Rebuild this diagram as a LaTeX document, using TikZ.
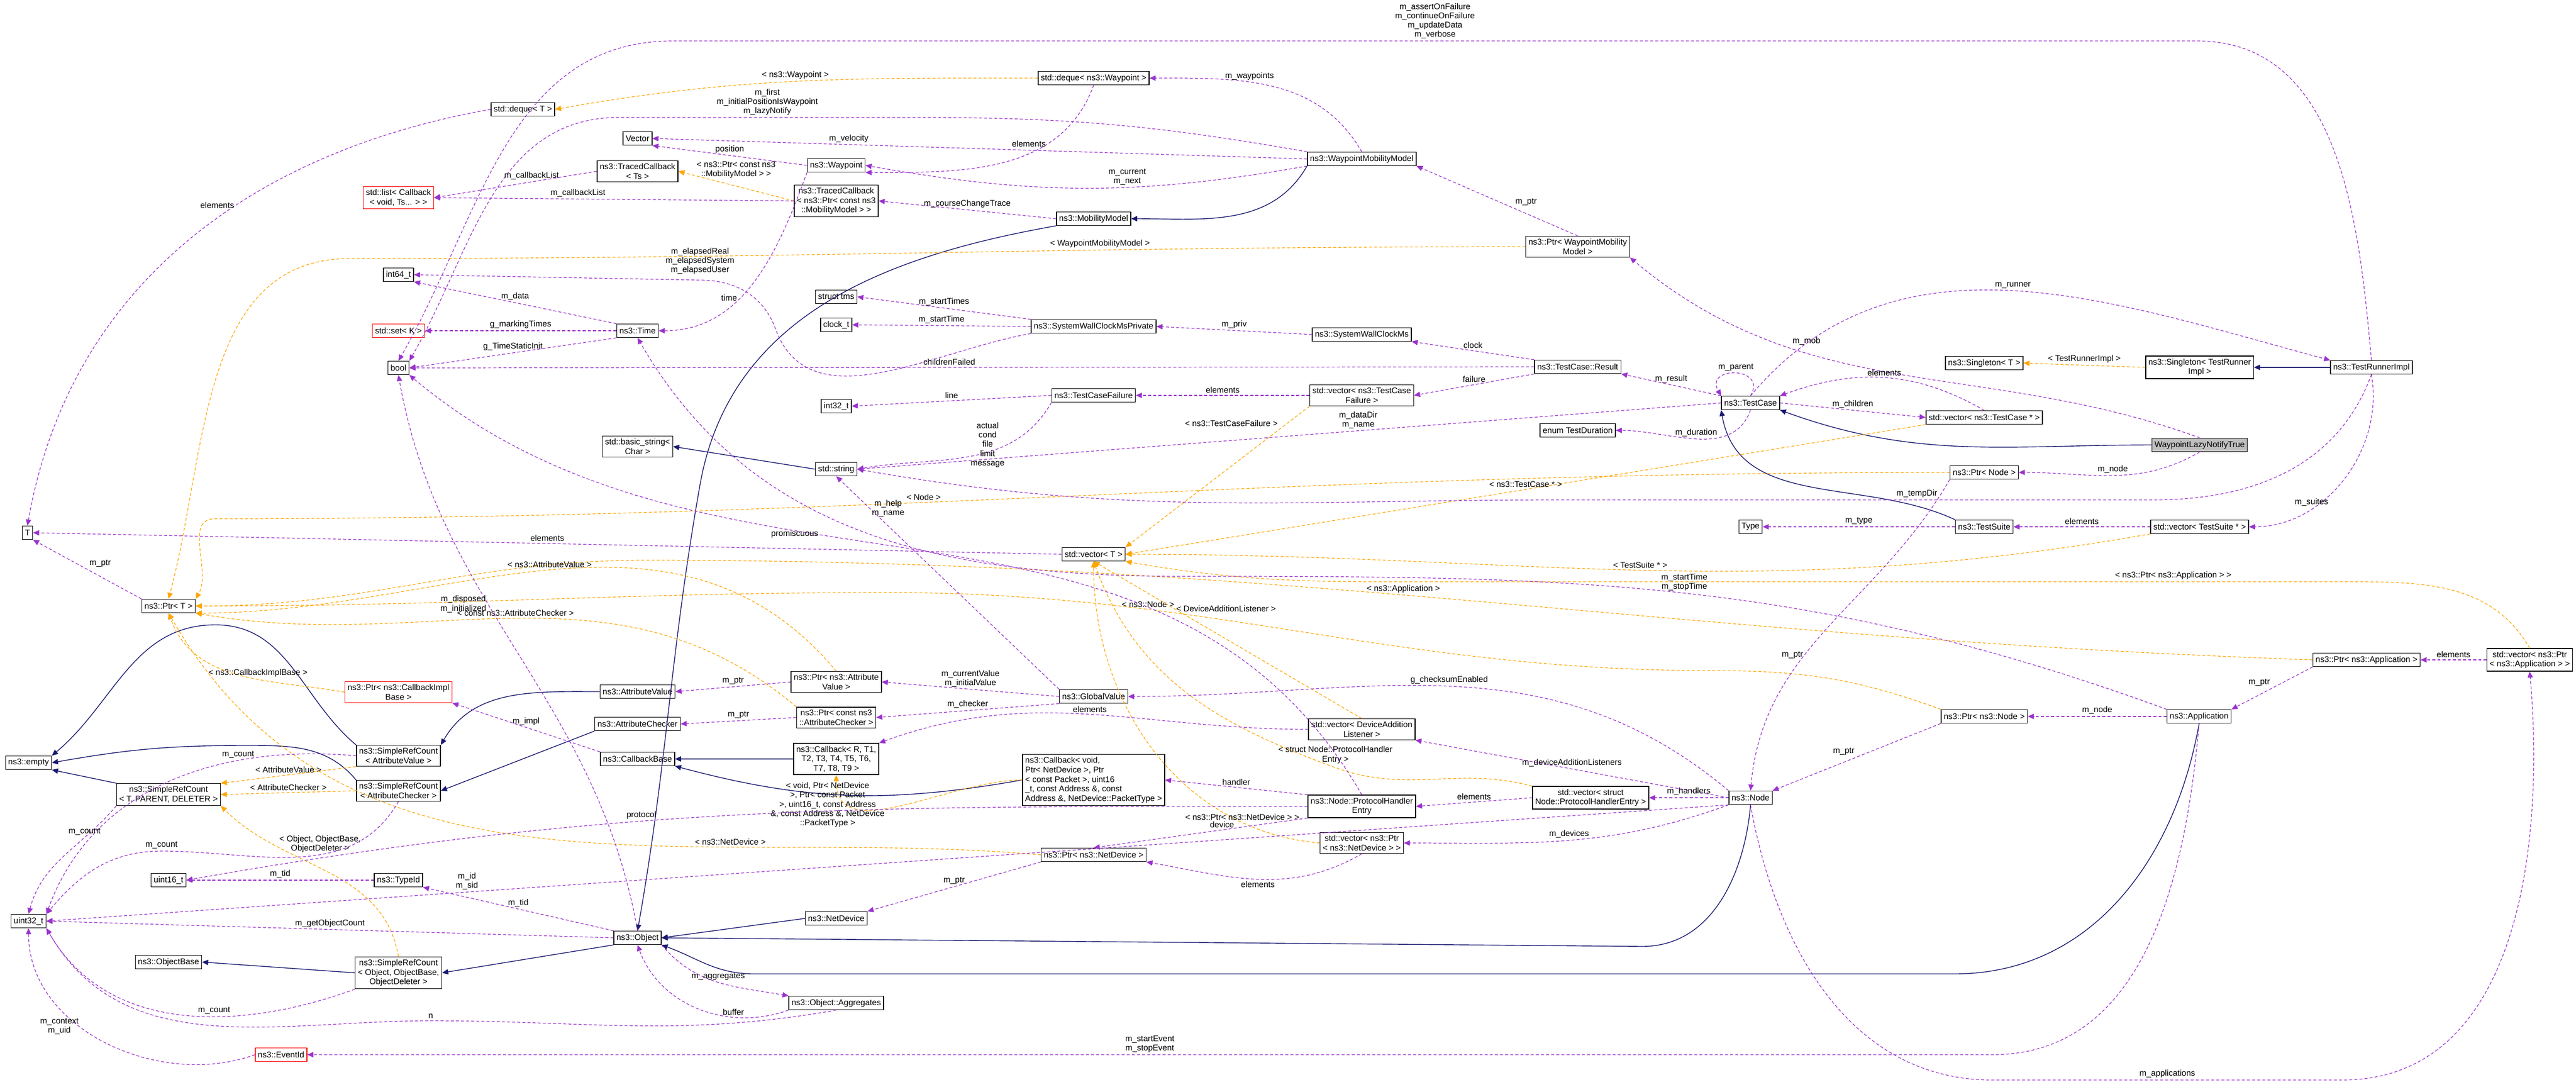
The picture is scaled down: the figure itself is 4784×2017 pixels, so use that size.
\documentclass[tikz,border=0pt]{standalone}
\usepackage{fontspec}
\setmainfont{Liberation Sans}
\usetikzlibrary{arrows.meta,positioning}
\definecolor{usecol}{HTML}{9A32CD}
\definecolor{tplcol}{HTML}{FFA500}
\definecolor{inhcol}{HTML}{191970}
\tikzset{
  box/.style={draw,rectangle,line width=0.4pt,font=\fontsize{4.4}{5}\selectfont,align=center,inner sep=1.4pt,minimum height=0.25cm},
  redbox/.style={box,draw=red},
  lbl/.style={font=\fontsize{4.4}{4.9}\selectfont,align=center,inner sep=1pt,text=black},
  usage/.style={draw=usecol,dash pattern=on 1.6pt off 1.1pt,line width=0.35pt,-{Triangle[length=3.2pt,width=2.8pt]},usecol},
  tmpl/.style={draw=tplcol,dash pattern=on 1.6pt off 1.1pt,line width=0.35pt,-{Triangle[length=3.2pt,width=2.8pt]},tplcol},
  inh/.style={draw=inhcol,line width=0.4pt,-{Triangle[length=3.2pt,width=2.8pt]},inhcol}
}
\begin{document}
\begin{tikzpicture}[x=0.01cm,y=-0.01cm]
\useasboundingbox (0,0) rectangle (4784,2017);
% left column
\node[box] (dequeT) at (971,203) {std::deque< T >};
\node[box] (Vector) at (1184,257) {Vector};
\node[box] (TracedTs) at (1184,318) {ns3::TracedCallback\\< Ts >};
\node[redbox] (listCb) at (740,367) {std::list< Callback\\< void, Ts... > >};
\node[box] (int64) at (740,510) {int64\_t};
\node[redbox] (setK) at (740,614) {std::set< K >};
\node[box] (Time) at (1184,614) {ns3::Time};
\node[box] (bool) at (740,683) {bool};
\node[box] (T) at (51,989) {T};
\node[box] (tms) at (1553,551) {struct tms};
\node[box] (clockt) at (1553,603) {clock\_t};
\node[box] (int32) at (1553,754) {int32\_t};
\node[box] (basicstr) at (1184,829) {std::basic\_string<\\ Char >};
\node[box] (string) at (1553,871) {std::string};
\node[box] (Waypoint) at (1553,307) {ns3::Waypoint};
\node[box] (TracedMob) at (1553,373) {ns3::TracedCallback\\< ns3::Ptr< const ns3\\::MobilityModel > >};
% middle
\node[box] (dequeWp) at (2031,145) {std::deque< ns3::Waypoint >};
\node[box] (WMM) at (2529,295) {ns3::WaypointMobilityModel};
\node[box] (MobModel) at (2031,406) {ns3::MobilityModel};
\node[box] (PtrWMM) at (2930,458) {ns3::Ptr< WaypointMobility\\Model >};
\node[box] (SWCMPriv) at (2031,606) {ns3::SystemWallClockMsPrivate};
\node[box] (SWCMs) at (2529,621) {ns3::SystemWallClockMs};
\node[box] (Result) at (2930,681) {ns3::TestCase::Result};
\node[box] (TCFail) at (2031,734) {ns3::TestCaseFailure};
\node[box] (vecTCF) at (2529,734) {std::vector< ns3::TestCase\\Failure >};
\node[box] (enumTD) at (2930,799) {enum TestDuration};
% right
\node[box] (TestCase) at (3251,748) {ns3::TestCase};
\node[box] (vecTC) at (3685,775) {std::vector< ns3::TestCase * >};
\node[box] (SingT) at (3685,674) {ns3::Singleton< T >};
\node[box] (SingTRI) at (4085,682) {ns3::Singleton< TestRunner\\Impl >};
\node[box] (TRI) at (4404,682) {ns3::TestRunnerImpl};
\node[box,fill=black!25] (WLNT) at (4085,826) {WaypointLazyNotifyTrue};
\node[box] (PtrNode) at (3685,877) {ns3::Ptr< Node >};
\node[box] (Type) at (3251,978) {Type};
\node[box] (TestSuite) at (3685,978) {ns3::TestSuite};
\node[box] (vecTS) at (4085,978) {std::vector< TestSuite * >};
% lower left
\node[box] (PtrT) at (313,1125) {ns3::Ptr< T >};
\node[redbox] (PtrCbImpl) at (740,1285) {ns3::Ptr< ns3::CallbackImpl\\Base >};
\node[box] (AttrVal) at (1184,1284) {ns3::AttributeValue};
\node[box] (AttrChk) at (1184,1344) {ns3::AttributeChecker};
\node[box] (CbBase) at (1184,1409) {ns3::CallbackBase};
\node[box] (SRCAV) at (740,1403) {ns3::SimpleRefCount\\< AttributeValue >};
\node[box] (empty) at (53,1416) {ns3::empty};
\node[box] (SRCTPD) at (313,1475) {ns3::SimpleRefCount\\< T, PARENT, DELETER >};
\node[box] (SRCAC) at (740,1468) {ns3::SimpleRefCount\\< AttributeChecker >};
\node[box] (uint16) at (313,1634) {uint16\_t};
\node[box] (TypeId) at (740,1634) {ns3::TypeId};
\node[box] (uint32) at (53,1710) {uint32\_t};
\node[box] (Object) at (1184,1741) {ns3::Object};
\node[box] (ObjBase) at (313,1786) {ns3::ObjectBase};
\node[box] (SRCObj) at (740,1806) {ns3::SimpleRefCount\\< Object, ObjectBase,\\ ObjectDeleter >};
\node[box] (Aggr) at (1553,1862) {ns3::Object::Aggregates};
\node[redbox] (EventId) at (522,1958) {ns3::EventId};
\node[box] (PtrAV) at (1553,1266) {ns3::Ptr< ns3::Attribute\\Value >};
\node[box] (PtrAC) at (1553,1332) {ns3::Ptr< const ns3\\::AttributeChecker >};
\node[box] (CbR) at (1553,1409) {ns3::Callback< R, T1,\\ T2, T3, T4, T5, T6,\\ T7, T8, T9 >};
\node[box] (NetDev) at (1553,1705) {ns3::NetDevice};
% lower middle and right
\node[box] (vecT) at (2031,1029) {std::vector< T >};
\node[box] (GlobVal) at (2031,1293) {ns3::GlobalValue};
\node[box] (vecDAL) at (2529,1354) {std::vector< DeviceAddition\\Listener >};
\node[box,align=left] (CbVoid) at (2031,1448) {ns3::Callback< void,\\ Ptr< NetDevice >, Ptr\\< const Packet >, uint16\\\_t, const Address \&, const\\ Address \&, NetDevice::PacketType >};
\node[box] (PNHE) at (2529,1497) {ns3::Node::ProtocolHandler\\Entry};
\node[box] (vecPHE) at (2954,1481) {std::vector< struct\\ Node::ProtocolHandlerEntry >};
\node[box] (vecPND) at (2529,1565) {std::vector< ns3::Ptr\\< ns3::NetDevice > >};
\node[box] (PtrND) at (2031,1587) {ns3::Ptr< ns3::NetDevice >};
\node[box] (Node) at (3251,1481) {ns3::Node};
\node[box] (PtrNsNode) at (3685,1330) {ns3::Ptr< ns3::Node >};
\node[box] (App) at (4084,1330) {ns3::Application};
\node[box] (PtrApp) at (4395,1225) {ns3::Ptr< ns3::Application >};
\node[box] (vecPApp) at (4698,1225) {std::vector< ns3::Ptr\\< ns3::Application > >};
% inheritance
\draw[inh] (WMM.south west) to[out=-120,in=0] (MobModel.east);
\draw[inh] (MobModel.south west) to[out=190,in=80] (1300,900) to[out=-100,in=80] (Object.north);
\draw[inh] (string.west) -- (basicstr.east);
\draw[inh] (WLNT.west) to[out=180,in=-20] (TestCase.south east);
\draw[inh] (TestSuite.north west) to[out=155,in=-80] (TestCase.south west);
\draw[inh] (TRI.west) -- (SingTRI.east);
\draw[inh] (SRCAV.north west) to[out=140,in=0] (400,1160) to[out=180,in=40] (empty.north east);
\draw[inh] (SRCAC.north west) to[out=130,in=0] (450,1384) to[out=180,in=10] (empty.east);
\draw[inh] (SRCTPD.north west) -- (empty.south east);
\draw[inh] (AttrVal.west) to[out=180,in=60] (SRCAV.north east);
\draw[inh] (AttrChk.south west) -- (SRCAC.east);
\draw[inh] (CbR.west) -- (CbBase.east);
\draw[inh] (CbVoid.west) to[out=190,in=-15] (CbBase.south east);
\draw[inh] (SRCObj.west) -- (ObjBase.east);
\draw[inh] (Object.south west) -- (SRCObj.east);
\draw[inh] (NetDev.west) -- (Object.east);
\draw[inh] (Node.south) to[out=-95,in=0] (3050,1757) -- (Object.east);
\draw[inh] (App.south) to[out=-100,in=0] (3630,1808) -- (1400,1808) to[out=180,in=-20] (Object.south east);
% templates
\draw[tmpl] (dequeWp.west) to[out=180,in=10] node[lbl,above,pos=0.5]{< ns3::Waypoint >} (dequeT.east);
\draw[tmpl] (TracedMob.west) -- node[lbl,above=3pt,pos=0.5]{< ns3::Ptr< const ns3\\::MobilityModel > >} (TracedTs.east);
\draw[tmpl] (PtrWMM.west) to[out=180,in=0] node[lbl,above,pos=0.35]{< WaypointMobilityModel >} (650,480) to[out=180,in=75] (PtrT.north);
\draw[tmpl] (vecTCF.south west) -- node[lbl,pos=0.12,left=4pt]{< ns3::TestCaseFailure >} (vecT.north east);
\draw[tmpl] (vecTC.south west) -- node[lbl,pos=0.5,above]{< ns3::TestCase * >} (vecT.east);
\draw[tmpl] (PtrNode.west) to[out=180,in=0] node[lbl,above,pos=0.6]{< Node >} (400,963) to[out=180,in=60] (PtrT.north east);
\draw[tmpl] (vecTS.south west) to[out=190,in=0] node[lbl,above,pos=0.5]{< TestSuite * >} (vecT.east);
\draw[tmpl] (vecPApp.north) to[out=120,in=0] (4370,1080) -- node[lbl,above,pos=0.2]{< ns3::Ptr< ns3::Application > >} (2700,1080) to[out=180,in=-10] (vecT.south east);
\draw[tmpl] (PtrApp.west) to[out=178,in=0] node[lbl,above,pos=0.55]{< ns3::Application >} (1200,1040) to[out=180,in=0] (PtrT.east);
\draw[tmpl] (PtrNsNode.north west) to[out=160,in=0] (3180,1245) to[out=180,in=0] node[lbl,above,pos=0.7]{< ns3::Node >} (1650,1100) to[out=180,in=0] (PtrT.east);
\draw[tmpl] (vecDAL.north) -- node[lbl,pos=0.7,right]{< DeviceAdditionListener >} (vecT.south);
\draw[tmpl] (vecPHE.north west) to[out=165,in=-20] (2480,1425) node[lbl,above=1pt]{< struct Node::ProtocolHandler\\Entry >} to[out=160,in=-70] (vecT.south);
\draw[tmpl] (vecPND.west) to[out=175,in=-90] node[lbl,pos=0.2,above]{< ns3::Ptr< ns3::NetDevice > >} (vecT.south);
\draw[tmpl] (PtrAV.north) to[out=130,in=0] node[lbl,pos=0.5,above]{< ns3::AttributeValue >} (PtrT.south east);
\draw[tmpl] (PtrAC.north west) to[out=140,in=-10] node[lbl,pos=0.5,above]{< const ns3::AttributeChecker >} (PtrT.south east);
\draw[tmpl] (PtrCbImpl.west) to[out=170,in=-70] node[lbl,pos=0.4,above]{< ns3::CallbackImplBase >} (PtrT.south);
\draw[tmpl] (PtrND.west) to[out=175,in=-60] node[lbl,pos=0.3,above]{< ns3::NetDevice >} (PtrT.south);
\draw[tmpl] (SRCAV.south west) -- node[lbl,pos=0.5,above]{< AttributeValue >} (SRCTPD.north east);
\draw[tmpl] (SRCAC.west) -- node[lbl,pos=0.5,above]{< AttributeChecker >} (SRCTPD.east);
\draw[tmpl] (SRCObj.north) to[out=100,in=-45] node[lbl,pos=0.75,right=2pt]{< Object, ObjectBase,\\ObjectDeleter >} (SRCTPD.south east);
\draw[tmpl] (CbVoid.west) to[out=180,in=-90] node[lbl,pos=0.5,left=8pt]{< void, Ptr< NetDevice\\>, Ptr< const Packet\\>, uint16\_t, const Address\\\&, const Address \&, NetDevice\\::PacketType >} (CbR.south);
\draw[tmpl] (SingTRI.west) -- node[lbl,pos=0.5,above]{< TestRunnerImpl >} (SingT.east);
% usage
\draw[usage] (dequeT.west) to[out=190,in=80] node[lbl,pos=0.4,left]{elements} (T.north);
\draw[usage] (dequeWp.south) to[out=-110,in=0] node[lbl,pos=0.3,left]{elements} (Waypoint.south east);
\draw[usage] (WMM.north) to[out=120,in=0] node[lbl,pos=0.6,above]{m\_waypoints} (dequeWp.east);
\draw[usage] (WMM.north west) to[out=170,in=0] (1700,218) -- node[lbl,pos=0.5,above]{m\_first\\m\_initialPositionIsWaypoint\\m\_lazyNotify} (1150,218) to[out=180,in=60] (bool.north east);
\draw[usage] (WMM.west) -- node[lbl,pos=0.7,above]{m\_velocity} (Vector.east);
\draw[usage] (WMM.south west) to[out=190,in=-10] node[lbl,pos=0.4,above]{m\_current\\m\_next} (Waypoint.east);
\draw[usage] (Waypoint.west) -- node[lbl,pos=0.5,above]{position} (Vector.south east);
\draw[usage] (Waypoint.south west) to[out=-110,in=0] node[lbl,pos=0.6,left]{time} (Time.east);
\draw[usage] (TracedTs.west) -- node[lbl,pos=0.4,above]{m\_callbackList} (listCb.east);
\draw[usage] (TracedMob.west) -- node[lbl,pos=0.6,above]{m\_callbackList} (listCb.east);
\draw[usage] (MobModel.west) -- node[lbl,pos=0.5,above]{m\_courseChangeTrace} (TracedMob.east);
\draw[usage] (PtrWMM.north) -- node[lbl,pos=0.4,above right]{m\_ptr} (WMM.south east);
\draw[usage] (WLNT.north) to[out=160,in=-40] node[lbl,pos=0.7,above right]{m\_mob} (PtrWMM.south east);
\draw[usage] (WLNT.south) to[out=-150,in=0] node[lbl,pos=0.5,above]{m\_node} (PtrNode.east);
\draw[usage] (Time.north west) -- node[lbl,pos=0.5,above]{m\_data} (int64.south east);
\draw[usage] (Time.west) -- node[lbl,pos=0.5,above]{g\_markingTimes} (setK.east);
\draw[usage] (Time.south west) -- node[lbl,pos=0.5,above]{g\_TimeStaticInit} (bool.east);
\draw[usage] (SWCMPriv.north west) -- node[lbl,pos=0.5,above]{m\_startTimes} (tms.east);
\draw[usage] (SWCMPriv.west) -- node[lbl,pos=0.5,above]{m\_startTime} (clockt.east);
\draw[usage] (SWCMPriv.south west) to[out=190,in=-70] (1440,610) to[out=110,in=0] (1300,520) node[lbl,above=2pt]{m\_elapsedReal\\m\_elapsedSystem\\m\_elapsedUser} -- (int64.east);
\draw[usage] (SWCMs.west) -- node[lbl,pos=0.5,above]{m\_priv} (SWCMPriv.east);
\draw[usage] (Result.north west) -- node[lbl,pos=0.5,above]{clock} (SWCMs.south east);
\draw[usage] (Result.west) -- node[lbl,pos=0.52,above]{childrenFailed} (bool.east);
\draw[usage] (Result.south west) -- node[lbl,pos=0.5,above]{failure} (vecTCF.east);
\draw[usage] (vecTCF.west) -- node[lbl,pos=0.5,above]{elements} (TCFail.east);
\draw[usage] (TCFail.west) -- node[lbl,pos=0.5,above]{line} (int32.east);
\draw[usage] (TCFail.south west) to[out=-120,in=10] node[lbl,pos=0.3,left]{actual\\cond\\file\\limit\\message} (string.east);
\draw[usage] (TestCase.north west) -- node[lbl,pos=0.5,above]{m\_result} (Result.south east);
\draw[usage] (TestCase.south) to[out=-110,in=0] node[lbl,pos=0.5,above]{m\_duration} (enumTD.east);
\draw[usage] (TestCase.west) -- node[lbl,pos=0.42,above]{m\_dataDir\\m\_name} (string.east);
\draw[usage] (TestCase.north) to[out=60,in=120,looseness=3] node[lbl,above]{m\_parent} (TestCase.north west);
\draw[usage] (TestCase.east) -- node[lbl,pos=0.5,above]{m\_children} (vecTC.west);
\draw[usage] (vecTC.north) to[out=150,in=20] node[lbl,pos=0.5,above]{elements} (TestCase.north east);
\draw[usage] (TestCase.north) to[out=50,in=165] node[lbl,pos=0.5,above]{m\_runner} (TRI.north west);
\draw[usage] (TRI.north) to[out=95,in=0] (4080,76) -- node[lbl,pos=0.5,above]{m\_assertOnFailure\\m\_continueOnFailure\\m\_updateData\\m\_verbose} (1250,76) to[out=180,in=60] (bool.north);
\draw[usage] (TRI.south) to[out=-110,in=0] (4000,928) -- node[lbl,pos=0.4,above]{m\_tempDir} (2900,928) to[out=180,in=-10] (string.east);
\draw[usage] (TRI.south) to[out=-80,in=0] node[lbl,pos=0.7,above]{m\_suites} (vecTS.east);
\draw[usage] (vecTS.west) -- node[lbl,pos=0.5,above]{elements} (TestSuite.east);
\draw[usage] (TestSuite.west) -- node[lbl,pos=0.5,above]{m\_type} (Type.east);
\draw[usage] (PtrNode.south west) to[out=-120,in=85] node[lbl,pos=0.6,left]{m\_ptr} (Node.north);
\draw[usage] (PtrT.north west) -- node[lbl,pos=0.5,above right]{m\_ptr} (T.south east);
\draw[usage] (vecT.west) -- node[lbl,pos=0.5,above]{elements} (T.east);
\draw[usage] (GlobVal.north west) -- node[lbl,pos=0.85,right]{m\_help\\m\_name} (string.south);
\draw[usage] (GlobVal.west) -- node[lbl,pos=0.5,above]{m\_currentValue\\m\_initialValue} (PtrAV.east);
\draw[usage] (GlobVal.south west) -- node[lbl,pos=0.5,above]{m\_checker} (PtrAC.east);
\draw[usage] (PtrAV.west) -- node[lbl,pos=0.5,above]{m\_ptr} (AttrVal.east);
\draw[usage] (PtrAC.west) -- node[lbl,pos=0.5,above]{m\_ptr} (AttrChk.east);
\draw[usage] (CbBase.north west) -- node[lbl,pos=0.5,above]{m\_impl} (PtrCbImpl.south east);
\draw[usage] (SRCAV.west) to[out=175,in=70] node[lbl,pos=0.3,above]{m\_count} (uint32.north east);
\draw[usage] (SRCTPD.south west) to[out=-130,in=75] node[lbl,pos=0.3,above]{m\_count} (uint32.north);
\draw[usage] (SRCAC.south) to[out=-120,in=0] (300,1580) node[lbl,above]{m\_count} to[out=180,in=50] (uint32.north east);
\draw[usage] (SRCObj.south west) to[out=-160,in=-60] node[lbl,pos=0.4,above]{m\_count} (uint32.south east);
\draw[usage] (TypeId.west) -- node[lbl,pos=0.5,above]{m\_tid} (uint16.east);
\draw[usage] (Object.north west) -- node[lbl,pos=0.5,above]{m\_tid} (TypeId.south east);
\draw[usage] (Object.west) -- node[lbl,pos=0.5,above]{m\_getObjectCount} (uint32.east);
\draw[usage] (Object.north) to[out=100,in=-80] node[lbl,pos=0.6,left]{m\_disposed\\m\_initialized} (bool.south);
\draw[usage] (Object.south east) to[out=-50,in=170] node[lbl,pos=0.5,above]{m\_aggregates} (Aggr.north west);
\draw[usage] (Aggr.south west) to[out=200,in=-70] node[lbl,pos=0.3,above]{buffer} (Object.south);
\draw[usage] (Aggr.south) to[out=190,in=0] (800,1895) node[lbl,above]{n} to[out=180,in=-60] (uint32.south east);
\draw[usage] (EventId.west) to[out=200,in=-90] node[lbl,pos=0.6,left]{m\_context\\m\_uid} (uint32.south);
\draw[usage] (Node.north west) to[out=140,in=0] node[lbl,pos=0.5,above]{g\_checksumEnabled} (GlobVal.east);
\draw[usage] (Node.west) -- node[lbl,pos=0.5,above]{m\_deviceAdditionListeners} (vecDAL.south east);
\draw[usage] (Node.west) -- node[lbl,pos=0.5,above]{m\_handlers} (vecPHE.east);
\draw[usage] (vecPHE.west) -- node[lbl,pos=0.5,above]{elements} (PNHE.east);
\draw[usage] (PNHE.north west) -- node[lbl,pos=0.5,above]{handler} (CbVoid.east);
\draw[usage] (PNHE.south west) -- node[lbl,pos=0.4,above]{device} (PtrND.north);
\draw[usage] (PNHE.west) to[out=180,in=10] node[lbl,pos=0.6,above]{protocol} (uint16.east);
\draw[usage] (PNHE.north) to[out=120,in=-40] node[lbl,pos=0.6,left]{promiscuous} (bool.south east);
\draw[usage] (Node.south west) to[out=200,in=0] node[lbl,pos=0.5,above]{m\_devices} (vecPND.east);
\draw[usage] (vecPND.south) to[out=-150,in=-10] node[lbl,pos=0.5,below]{elements} (PtrND.south east);
\draw[usage] (PtrND.south west) -- node[lbl,pos=0.5,above]{m\_ptr} (NetDev.north east);
\draw[usage] (Node.south west) -- node[lbl,pos=0.75,above]{m\_id\\m\_sid} (uint32.east);
\draw[usage] (Node.south) to[out=-80,in=180] (3700,2005) -- node[lbl,pos=0.5,above]{m\_applications} (4350,2005) to[out=0,in=-85] (vecPApp.south);
\draw[usage] (vecPApp.west) -- node[lbl,pos=0.5,above]{elements} (PtrApp.east);
\draw[usage] (PtrApp.south west) -- node[lbl,pos=0.5,above left]{m\_ptr} (App.north east);
\draw[usage] (App.west) -- node[lbl,pos=0.5,above]{m\_node} (PtrNsNode.east);
\draw[usage] (PtrNsNode.south west) -- node[lbl,pos=0.5,above left]{m\_ptr} (Node.north east);
\draw[usage] (App.north west) to[out=160,in=0] node[lbl,pos=0.5,above]{m\_startTime\\m\_stopTime} (2200,1070) to[out=180,in=-60] (Time.south);
\draw[usage] (App.south) to[out=-95,in=0] (3700,1958) -- node[lbl,pos=0.5,above]{m\_startEvent\\m\_stopEvent} (EventId.east);
\draw[usage] (vecDAL.west) to[out=180,in=20] node[lbl,pos=0.5,above]{elements} (CbR.north east);
\end{tikzpicture}
\end{document}
